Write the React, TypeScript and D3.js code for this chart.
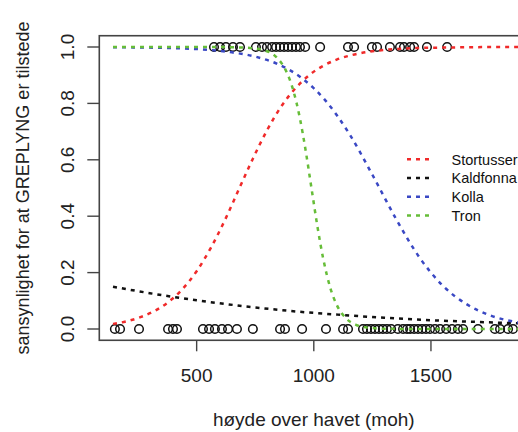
import React from "react";
import * as d3 from "d3";

const xTicks = [500, 1000, 1500];
const yTicks = [0, 0.2, 0.4, 0.6, 0.8, 1.0];

// observed presence (1) / absence (0) by elevation
const presentX = [574, 600, 625, 655, 685, 753, 779, 800, 822, 839, 856, 873, 890, 907, 924, 941, 963, 1027, 1146, 1172, 1248, 1270, 1325, 1368, 1385, 1411, 1428, 1483, 1569];
const absentX = [151, 173, 254, 378, 399, 416, 527, 553, 578, 608, 634, 672, 740, 856, 877, 950, 1052, 1125, 1146, 1210, 1227, 1244, 1261, 1278, 1295, 1312, 1330, 1359, 1381, 1398, 1411, 1428, 1445, 1462, 1479, 1496, 1517, 1539, 1565, 1590, 1615, 1637, 1701, 1773, 1795, 1829, 1850];

// fitted curves
const stortusserX = [143, 200, 260, 320, 380, 440, 500, 560, 620, 680, 740, 800, 860, 920, 980, 1040, 1100, 1160, 1240, 1320, 1420, 1560, 1700, 1880];
const stortusserP = [0.018, 0.027, 0.042, 0.064, 0.096, 0.142, 0.205, 0.287, 0.385, 0.495, 0.604, 0.704, 0.788, 0.852, 0.9, 0.933, 0.956, 0.971, 0.984, 0.991, 0.996, 0.998, 0.9995, 1.0];

const kaldfonnaX = [143, 300, 500, 700, 900, 1100, 1300, 1500, 1700, 1880];
const kaldfonnaP = [0.15, 0.127, 0.102, 0.081, 0.064, 0.051, 0.04, 0.031, 0.025, 0.02];

const kollaX = [143, 400, 550, 650, 750, 850, 950, 1050, 1150, 1250, 1350, 1450, 1550, 1650, 1750, 1880];
const kollaP = [0.9992, 0.996, 0.99, 0.981, 0.966, 0.938, 0.889, 0.81, 0.694, 0.547, 0.392, 0.255, 0.154, 0.089, 0.049, 0.022];

const tronX = [143, 600, 700, 780, 840, 880, 910, 940, 965, 990, 1015, 1040, 1070, 1100, 1140, 1180, 1240, 1320, 1500, 1880];
const tronP = [1.0, 0.9998, 0.998, 0.99, 0.964, 0.918, 0.853, 0.75, 0.634, 0.5, 0.366, 0.25, 0.147, 0.082, 0.036, 0.015, 0.004, 0.0007, 0.0, 0.0];

const seriesNames = ["Stortusser", "Kaldfonna", "Kolla", "Tron"];
const seriesColors = ["#f02a2a", "#111111", "#3a48c4", "#66bd38"];

export default function App() {
  const W = 518, H = 432;
  const x = d3.scaleLinear().domain([0, 2000]).range([79.5, 79.5 + 2000 * 0.2343]);
  const y = d3.scaleLinear().domain([0, 1]).range([329, 47]);
  const x0 = x(84.5), x1 = x(1918);
  const yTop = y(1.04), yBot = y(-0.04);

  const line = d3.line<[number, number]>()
    .x((d) => x(d[0]))
    .y((d) => y(d[1]))
    .curve(d3.curveMonotoneX);

  const curves = [
    { xs: stortusserX, ps: stortusserP },
    { xs: kaldfonnaX, ps: kaldfonnaP },
    { xs: kollaX, ps: kollaP },
    { xs: tronX, ps: tronP },
  ];

  const font = "'Liberation Sans', Arial, sans-serif";
  const dash = "4,5";

  return (
    <svg width={W} height={H} style={{ position: "absolute", left: 0, top: 0, background: "#fff" }} fontFamily={font}>
      <rect x={0} y={0} width={W} height={H} fill="#fff" />
      <rect x={x0} y={yTop} width={x1 - x0} height={yBot - yTop} fill="none" stroke="#444" strokeWidth={1.6} />
      {xTicks.map((t) => (
        <g key={"xt" + t}>
          <line x1={x(t)} x2={x(t)} y1={yBot} y2={yBot + 11} stroke="#444" strokeWidth={1.4} />
          <text x={x(t)} y={381.5} textAnchor="middle" fontSize={19} fill="#222">{t}</text>
        </g>
      ))}
      {yTicks.map((t) => (
        <g key={"yt" + t}>
          <line x1={x0} x2={x0 - 12} y1={y(t)} y2={y(t)} stroke="#444" strokeWidth={1.4} />
          <text transform={`translate(73.5,${y(t)}) rotate(-90)`} textAnchor="middle" fontSize={19} fill="#222">{t.toFixed(1)}</text>
        </g>
      ))}
      <text x={(x(500) + x(1500)) / 2} y={426} textAnchor="middle" fontSize={19} fill="#222">høyde over havet (moh)</text>
      <text transform={`translate(29,${(yTop + yBot) / 2}) rotate(-90)`} textAnchor="middle" fontSize={18} fill="#222">sansynlighet for at GREPLYNG er tilstede</text>
      {presentX.map((v, i) => (
        <circle key={"p" + i} cx={x(v)} cy={y(1)} r={4.3} fill="none" stroke="#111" strokeWidth={1.5} />
      ))}
      {absentX.map((v, i) => (
        <circle key={"a" + i} cx={x(v)} cy={y(0)} r={4.3} fill="none" stroke="#111" strokeWidth={1.5} />
      ))}
      {curves.map((c, i) => (
        <path
          key={"c" + i}
          d={line(c.xs.map((v, j) => [v, c.ps[j]] as [number, number])) || ""}
          fill="none"
          stroke={seriesColors[i]}
          strokeWidth={2.5}
          strokeDasharray={dash}
        />
      ))}
      {seriesNames.map((n, i) => {
        const ly = 159.3 + i * 18.7;
        return (
          <g key={"lg" + i}>
            <line x1={407} x2={433} y1={ly} y2={ly} stroke={seriesColors[i]} strokeWidth={2.5} strokeDasharray={dash} />
            <text x={451.5} y={ly + 5.4} fontSize={14.5} fill="#111">{n}</text>
          </g>
        );
      })}
    </svg>
  );
}
